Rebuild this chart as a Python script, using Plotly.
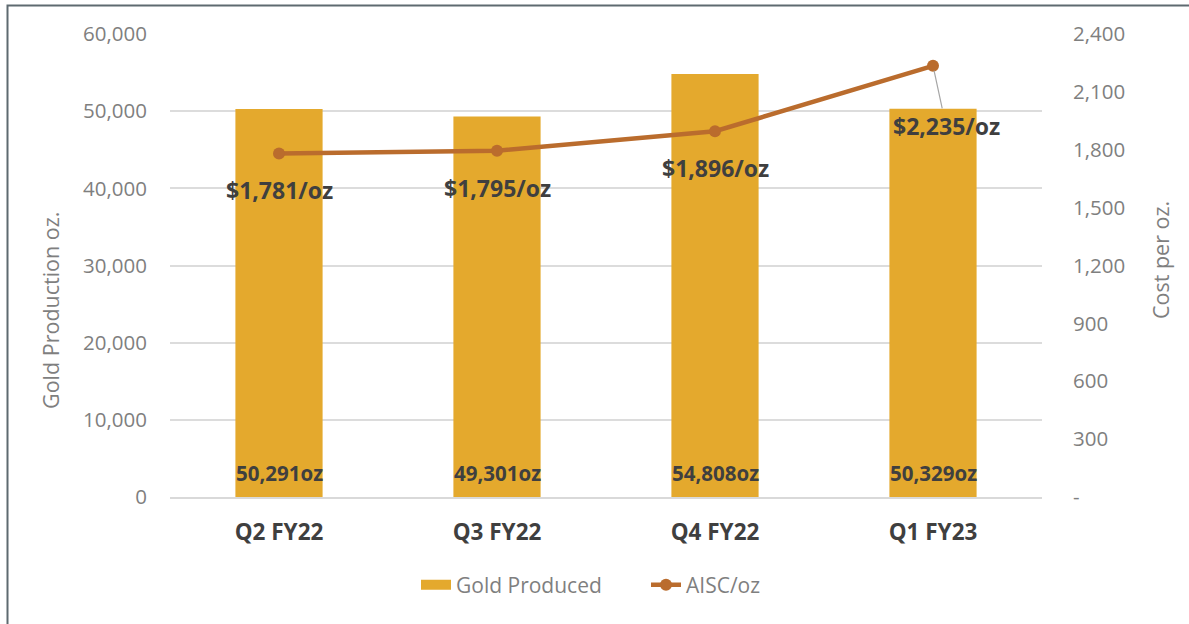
import plotly.graph_objects as go

quarters = ["Q2 FY22", "Q3 FY22", "Q4 FY22", "Q1 FY23"]
gold_produced = [50291, 49301, 54808, 50329]
aisc = [1781, 1795, 1896, 2235]
left_ticks = [0, 10000, 20000, 30000, 40000, 50000, 60000]
right_ticks = [0, 300, 600, 900, 1200, 1500, 1800, 2100, 2400]
right_tick_text = ["-", "300", "600", "900", "1,200", "1,500", "1,800", "2,100", "2,400"]

BAR = "#E4A92D"
LINE = "#BA6C2D"
GRAY = "#7F7F7F"
DARK = "#3F3F3F"
FONT = "Open Sans"

# plot area geometry (pixels)
L, T, W, H = 170, 34, 872, 463
FIG_W, FIG_H = 1189, 624


def px(xp):
    return (xp - L) / W


def py(yp):
    return (T + H - yp) / H


fig = go.Figure()
fig.add_trace(go.Bar(
    x=quarters, y=gold_produced, name="Gold Produced",
    marker=dict(color=BAR, line=dict(width=0)), width=0.4,
    showlegend=False, hoverinfo="skip",
))
# legend swatch for the bars (wide rectangle like the original)
fig.add_trace(go.Scatter(
    x=[None], y=[None], name="Gold Produced", mode="lines",
    line=dict(color=BAR, width=13), hoverinfo="skip",
))
fig.add_trace(go.Scatter(
    x=quarters, y=aisc, name="AISC/oz", yaxis="y2", mode="lines+markers",
    line=dict(color=LINE, width=4.5), marker=dict(color=LINE, size=12),
    hoverinfo="skip",
))

# bar value labels at the base of each bar
for q, v in zip(quarters, gold_produced):
    fig.add_annotation(
        x=q, y=0, xref="x", yref="y", text=f"<b>{v:,}oz</b>", showarrow=False,
        yanchor="middle", yshift=24,
        font=dict(family=FONT, size=20.5, color=DARK),
    )

# AISC labels
for q, v in zip(quarters[:-1], aisc[:-1]):
    fig.add_annotation(
        x=q, y=v, xref="x", yref="y2", text=f"<b>${v:,}/oz</b>", showarrow=False,
        yanchor="middle", yshift=-37,
        font=dict(family=FONT, size=23, color=DARK),
    )
fig.add_annotation(
    x=quarters[-1], y=aisc[-1], xref="x", yref="y2", text=f"<b>${aisc[-1]:,}/oz</b>",
    showarrow=True, arrowhead=0, arrowwidth=1.2, arrowcolor="#A6A6A6",
    ax=13, ay=60, standoff=5,
    font=dict(family=FONT, size=23, color=DARK),
)

# axis titles (placed like the original)
fig.add_annotation(
    x=px(50), y=py(311), xref="paper", yref="paper", text="Gold Production oz.",
    showarrow=False, textangle=-90, xanchor="center", yanchor="middle",
    font=dict(family=FONT, size=21.5, color=GRAY),
)
fig.add_annotation(
    x=px(1160), y=py(260), xref="paper", yref="paper", text="Cost per oz.",
    showarrow=False, textangle=-90, xanchor="center", yanchor="middle",
    font=dict(family=FONT, size=21.5, color=GRAY),
)

fig.update_layout(
    width=FIG_W, height=FIG_H,
    margin=dict(l=L, r=FIG_W - L - W, t=T, b=FIG_H - T - H, autoexpand=False),
    paper_bgcolor="white", plot_bgcolor="white",
    font=dict(family=FONT, color=GRAY),
    showlegend=True,
    legend=dict(orientation="h", x=0.5 + 40 / W, xanchor="center", y=py(585), yanchor="middle",
                font=dict(family=FONT, size=21, color=GRAY), traceorder="normal",
                entrywidth=185, entrywidthmode="pixels"),
    xaxis=dict(
        tickfont=dict(family=FONT, size=22.5, color=DARK, weight="bold"),
        showline=True, linecolor="#D9D9D9", linewidth=1.5, ticks="",
        ticklabelstandoff=14,
    ),
    yaxis=dict(
        range=[0, 60000], tickvals=left_ticks, tickformat=",",
        tickfont=dict(family=FONT, size=20.5, color=GRAY),
        showgrid=True, gridcolor="#DCDCDC", gridwidth=1.5, zeroline=False,
        ticklabelstandoff=22,
    ),
    yaxis2=dict(
        range=[0, 2400], tickvals=right_ticks, ticktext=right_tick_text,
        overlaying="y", side="right", showgrid=False, zeroline=False,
        tickfont=dict(family=FONT, size=20.5, color=GRAY),
        ticklabelstandoff=30,
    ),
)

# outer frame of the chart area
fig.add_shape(type="rect", xref="paper", yref="paper",
              x0=px(7.5), x1=px(1250), y0=py(700), y1=py(5.5),
              line=dict(color="#5E6A70", width=2), layer="below")

fig.write_html("out.html", config={"displayModeBar": False},
               post_script="document.body.style.margin='0';")
